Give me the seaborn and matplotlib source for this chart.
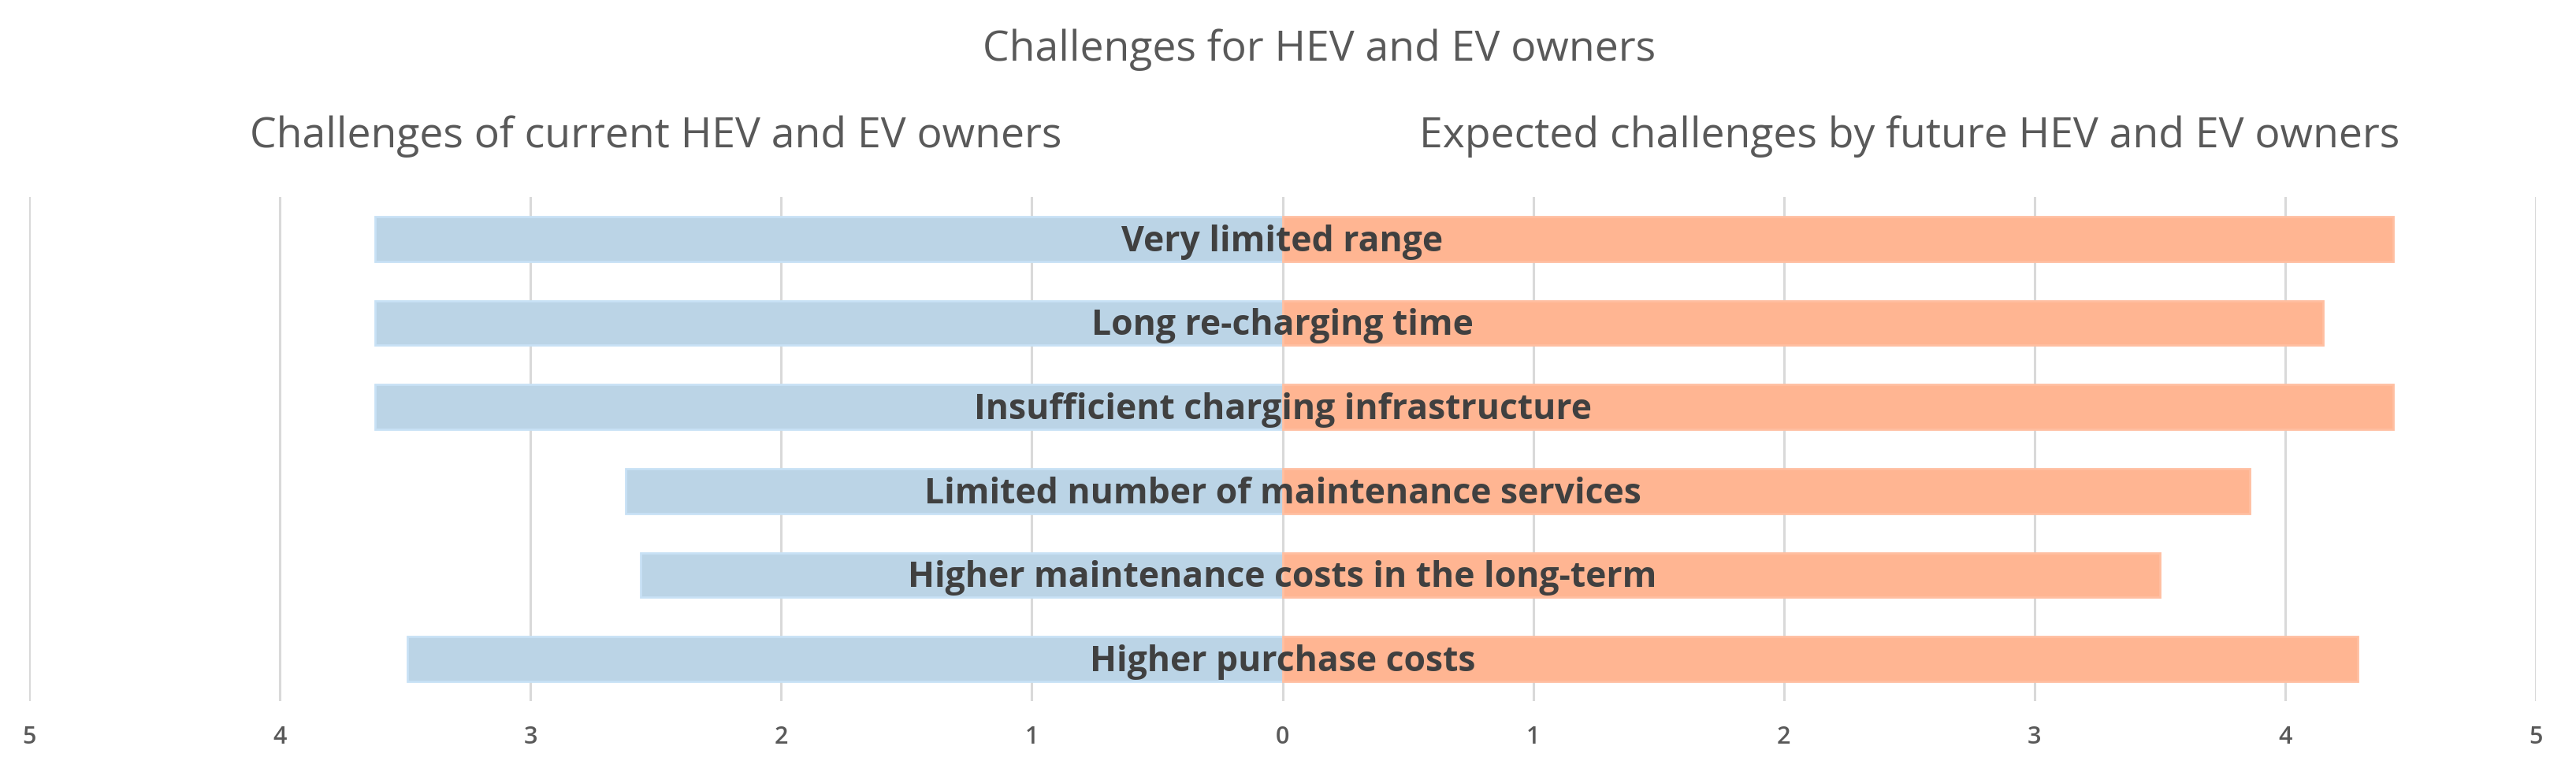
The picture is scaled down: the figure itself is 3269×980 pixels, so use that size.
import matplotlib
matplotlib.use("Agg")
import matplotlib.pyplot as plt
import seaborn as sns
import pandas as pd

categories = [
    "Very limited range",
    "Long re-charging time",
    "Insufficient charging infrastructure",
    "Limited number of maintenance services",
    "Higher maintenance costs in the long-term",
    "Higher purchase costs",
]
current_owners = [3.62, 3.62, 3.62, 2.62, 2.56, 3.49]
future_owners = [4.43, 4.15, 4.43, 3.86, 3.50, 4.29]
tick_values = [-5, -4, -3, -2, -1, 0, 1, 2, 3, 4, 5]
tick_labels = ["5", "4", "3", "2", "1", "0", "1", "2", "3", "4", "5"]

title = "Challenges for HEV and EV owners"
left_title = "Challenges of current HEV and EV owners"
right_title = "Expected challenges by future HEV and EV owners"

sns.set_theme(style="white")
plt.rcParams["font.family"] = ["Open Sans", "DejaVu Sans"]

W, H = 3269, 980
df_cur = pd.DataFrame({"cat": categories, "val": [-v for v in current_owners]})
df_fut = pd.DataFrame({"cat": categories, "val": future_owners})

fig = plt.figure(figsize=(W / 100, H / 100), dpi=100)
ax = fig.add_axes([37 / W, 1 - 890 / H, (3218 - 37) / W, 640 / H])

sns.barplot(data=df_cur, x="val", y="cat", orient="h", color="#BBD4E6",
            saturation=1, width=0.53, ax=ax, edgecolor="#C8E1F5", linewidth=2, zorder=3)
sns.barplot(data=df_fut, x="val", y="cat", orient="h", color="#FFB592",
            saturation=1, width=0.53, ax=ax, edgecolor="#FFBFA1", linewidth=2, zorder=3)

ax.set_xlim(-5, 5)
ax.set_ylim(5.5, -0.5)
ax.set_xticks(tick_values)
ax.set_xticklabels(tick_labels)
ax.set_yticks([])
ax.set_xlabel("")
ax.set_ylabel("")
ax.grid(axis="x", color="#D9D9D9", linewidth=2.2, zorder=0)
ax.set_axisbelow(True)
for s in ax.spines.values():
    s.set_visible(False)
ax.tick_params(axis="x", length=0, pad=22, labelsize=22, labelcolor="#595959")
for lab in ax.get_xticklabels():
    lab.set_fontweight("semibold")

for i, c in enumerate(categories):
    ax.text(0, i + 0.145, c, ha="center", va="baseline", fontsize=32,
            fontweight="bold", color="#404040", zorder=5)

fig.text(1674 / W, 1 - 77 / H, title, ha="center", va="baseline",
         fontsize=38.5, color="#595959")
fig.text(832 / W, 1 - 187 / H, left_title, ha="center", va="baseline",
         fontsize=38.5, color="#595959")
fig.text(2423 / W, 1 - 187 / H, right_title, ha="center", va="baseline",
         fontsize=38.5, color="#595959")

fig.savefig("out.png", dpi=100, facecolor="white")
